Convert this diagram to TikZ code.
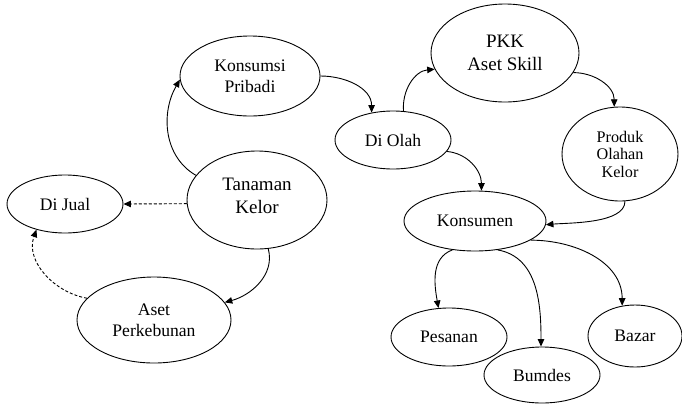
\documentclass[tikz,border=0pt]{standalone}
\usepackage{fontspec}
\setmainfont{Liberation Serif}
\usetikzlibrary{shapes.geometric,arrows.meta}
\begin{document}
\begin{tikzpicture}[x=1pt,y=-1pt,
  bub/.style={draw, ellipse, inner sep=0pt, line width=0.9pt, align=center, font=\fontsize{17.6}{21}\selectfont},
  big/.style={font=\fontsize{19}{23}\selectfont},
  arr/.style={line width=0.9pt, -{Triangle[length=7.5pt,width=6.5pt]}},
  dsh/.style={arr, dash pattern=on 3pt off 2pt}]
\useasboundingbox (0,0) rectangle (682,405);
\node[bub, minimum width=140pt, minimum height=80pt] (kp) at (250,76) {Konsumsi\\Pribadi};
\node[bub, minimum width=140pt, minimum height=98pt,
  label={[big, align=center, yshift=4pt]center:Tanaman\\Kelor}] (tk) at (257,200) {};
\node[bub, minimum width=116pt, minimum height=58pt] (dj) at (65,204) {Di Jual};
\node[bub, minimum width=154pt, minimum height=86pt] (ap) at (154,320) {Aset\\Perkebunan};
\node[bub, minimum width=116pt, minimum height=58pt] (do) at (393,140) {Di Olah};
\node[bub, big, minimum width=148pt, minimum height=98pt] (pkk) at (505,53) {PKK\\Aset Skill};
\node[bub, font=\fontsize{16.2}{17.5}\selectfont, minimum width=116pt, minimum height=94pt] (po) at (620,154) {Produk\\Olahan\\Kelor};
\node[bub, minimum width=142pt, minimum height=60pt] (ks) at (475,221) {Konsumen};
\node[bub, minimum width=116pt, minimum height=58pt] (ps) at (449,337) {Pesanan};
\node[bub, minimum width=116pt, minimum height=56pt] (bm) at (542,375) {Bumdes};
\node[bub, minimum width=94pt, minimum height=62pt] (bz) at (635,336) {Bazar};

\draw[arr] (tk.158) to[out=150,in=240] (kp.183);
\draw[arr] (kp.0) to[out=0,in=90] (do.128);
\draw[arr] (do.70) to[out=95,in=185] (pkk.193);
\draw[arr] (pkk.344) to[out=0,in=90] (po.97);
\draw[arr] (do.348) to[out=-5,in=90] (ks.78);
\draw[arr] (po.276) to[out=-90,in=5,looseness=0.7] (ks.357);
\draw[arr] (ks.232) to[out=200,in=100] (ps.110);
\draw[arr] (ks.308) to[out=-10,in=90] (bm.92);
\draw[arr] (ks.341) to[out=0,in=90] (bz.113);
\draw[dsh] (tk.183) -- (dj.east);
\draw[dsh] (ap.162) to[out=170,in=250] (dj.222);
\draw[arr] (tk.283) to[out=-75,in=15] (ap.14);
\end{tikzpicture}
\end{document}
